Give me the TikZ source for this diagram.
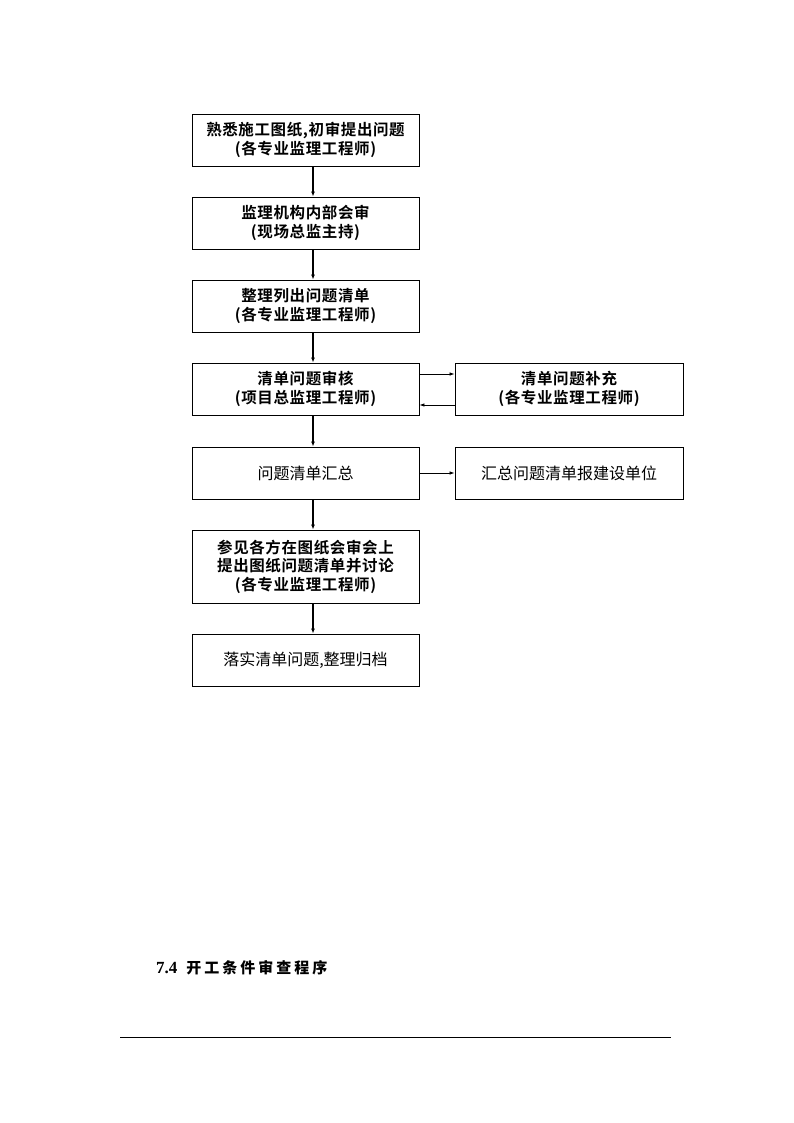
\documentclass[tikz,border=0pt]{standalone}
\usepackage{fontspec}
\setmainfont{Liberation Serif}
\newfontfamily\cjkb{Noto Sans CJK SC Bold}[LetterSpace=4]
\newfontfamily\cjkr{Noto Sans CJK SC}
\newfontfamily\cjkh{Noto Sans CJK SC Bold}[LetterSpace=20]
\usetikzlibrary{arrows.meta}
\begin{document}
\begin{tikzpicture}[x=1pt,y=-1pt,
  boxstyle/.style={draw,line width=0.9pt,inner sep=0pt,align=center},
  lbl/.style={font=\cjkb\fontsize{15.5}{18.5}\selectfont},
  big/.style={font=\cjkr\fontsize{16}{20}\selectfont},
  conn/.style={line width=1.4pt,-{Latex[length=5pt,width=4pt]}},
  thin/.style={line width=0.7pt,-{Latex[length=5pt,width=3.5pt]}}]
\useasboundingbox (0,0) rectangle (794,1123);
\node[boxstyle,lbl,minimum width=227pt,minimum height=52pt] (b1) at (305.5,140) {熟悉施工图纸,初审提出问题\\(各专业监理工程师)};
\node[boxstyle,lbl,minimum width=227pt,minimum height=52pt] (b2) at (305.5,223) {监理机构内部会审\\(现场总监主持)};
\node[boxstyle,lbl,minimum width=227pt,minimum height=52pt] (b3) at (305.5,306) {整理列出问题清单\\(各专业监理工程师)};
\node[boxstyle,lbl,minimum width=227pt,minimum height=52pt] (b4) at (305.5,389) {清单问题审核\\(项目总监理工程师)};
\node[boxstyle,lbl,minimum width=228pt,minimum height=52pt] (r4) at (569,389) {清单问题补充\\(各专业监理工程师)};
\node[boxstyle,big,minimum width=227pt,minimum height=52pt] (b5) at (305.5,473) {问题清单汇总};
\node[boxstyle,big,minimum width=228pt,minimum height=52pt] (r5) at (569,473) {汇总问题清单报建设单位};
\node[boxstyle,lbl,minimum width=227pt,minimum height=73pt] (b6) at (305.5,566.5) {参见各方在图纸会审会上\\提出图纸问题清单并讨论\\(各专业监理工程师)};
\node[boxstyle,big,minimum width=227pt,minimum height=52pt] (b7) at (305.5,660) {落实清单问题,整理归档};
\draw[conn] (b1.south -| 313,0) -- (b2.north -| 313,0);
\draw[conn] (b2.south -| 313,0) -- (b3.north -| 313,0);
\draw[conn] (b3.south -| 313,0) -- (b4.north -| 313,0);
\draw[conn] (b4.south -| 313,0) -- (b5.north -| 313,0);
\draw[conn] (b5.south -| 313,0) -- (b6.north -| 313,0);
\draw[conn] (b6.south -| 313,0) -- (b7.north -| 313,0);
\draw[thin] (b4.east |- 0,374) -- (r4.west |- 0,374);
\draw[thin] (r4.west |- 0,405) -- (b4.east |- 0,405);
\draw[thin] (b5.east |- 0,473) -- (r5.west |- 0,473);
\node[anchor=west,inner sep=0pt] (h) at (156,968) {\fontsize{17}{20}\selectfont\bfseries 7.4\hspace{9pt}{\cjkh\fontsize{15}{18}\selectfont 开工条件审查程序}};
\coordinate (la) at (120,1037);
\coordinate (lb) at (671,1037);
\draw[line width=0.9pt] (la) -- (lb);
\end{tikzpicture}
\end{document}
